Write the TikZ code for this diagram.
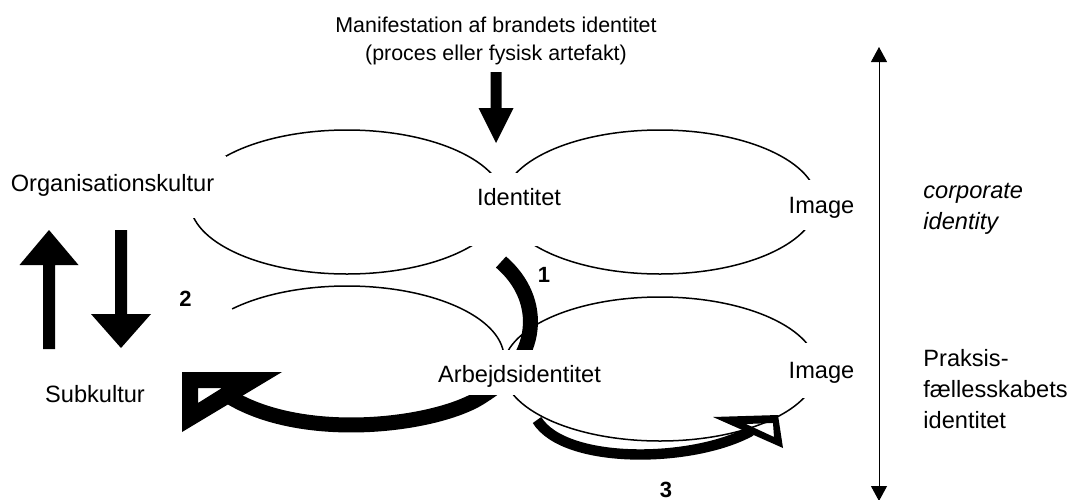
\documentclass[tikz,border=0pt]{standalone}
\usepackage{fontspec}
\setmainfont{Liberation Sans}
\usetikzlibrary{arrows.meta}

\tikzset{
  lbl/.style={fill=white, inner ysep=0pt, anchor=base, font=\fontsize{11.8}{14}\selectfont},
  note/.style={anchor=base west, align=left, inner sep=0pt, font=\fontsize{11.8}{15.3}\selectfont},
  num/.style={anchor=base, inner sep=0pt, font=\fontsize{11}{13}\selectfont\bfseries},
  oval/.style={line width=0.75pt},
  band/.style={line width=7.5pt},
  thinband/.style={line width=5.2pt},
  scalearrow/.style={{Triangle[width=8pt,length=7.5pt]}-{Triangle[width=8pt,length=7.5pt]}, line width=0.5pt}
}

\begin{document}
\begin{tikzpicture}[x=0.5pt,y=-0.5pt]
\useasboundingbox (0,0) rectangle (1072,499);

%Ellipses
\coordinate (e1) at (347,202);
\coordinate (e2) at (660,202);
\coordinate (e3) at (347,358);
\coordinate (e4) at (660,369);
\draw [oval] (e1) ellipse (78.5pt and 36pt);
\draw [oval] (e2) ellipse (78.5pt and 36pt);
\draw [oval] (e3) ++(137:78.5pt and 36pt) arc (137:-112:78.5pt and 36pt);
\draw [oval] (e4) ellipse (78.5pt and 36pt);

%Curved Arrows
\coordinate (b1s) at (501,262);
\coordinate (b1m) at (484,395);
\coordinate (b1e) at (230,397);
\draw [band] (b1s) .. controls (545,300) and (540,360) .. (b1m)
  .. controls (442,425) and (306,443) .. (b1e);
\fill [even odd rule] (182,372) -- (282,372) -- (182,432) -- cycle
  (198,388) -- (222,388) -- (198,403) -- cycle;
\coordinate (b3s) at (537,420);
\coordinate (b3e) at (751,431);
\draw [thinband] (b3s) .. controls (565,465) and (693,463) .. (b3e);
\fill [even odd rule] (713,417) -- (778,415) -- (783,448) -- cycle
  (746,424) -- (773,423) -- (774,437) -- cycle;

%Labels
\node [lbl, inner xsep=6pt, text height=17.5pt, text depth=13.5pt] (org) at (112.5,191) {Organisationskultur};
\node [lbl, inner xsep=4pt, text height=16pt, text depth=20.5pt] (idt) at (519,205) {Identitet};
\node [lbl, inner xsep=2pt, text height=16.5pt, text depth=8.5pt] (img1) at (821.5,213) {Image};
\node [lbl, inner xsep=3pt, text height=16pt, text depth=6.5pt] (arb) at (519.5,382) {Arbejdsidentitet};
\node [lbl, inner xsep=2pt, text height=17.5pt, text depth=10pt] (img2) at (821.5,378) {Image};
\node [lbl, inner xsep=2pt] (sub) at (95,402) {Subkultur};
\node [anchor=base, align=center, inner sep=0pt, font=\fontsize{10.7}{14}\selectfont] (man) at (496,60)
  {Manifestation af brandets identitet\\(proces eller fysisk artefakt)};
\node [note, font=\fontsize{11.8}{15.3}\selectfont\itshape] (corp) at (923,229) {corporate\\identity};
\node [note] (prak) at (923,428) {Praksis-\\fællesskabets\\identitet};
\node [num] (n1) at (544,282) {1};
\node [num] (n2) at (185.5,306) {2};
\node [num] (n3) at (666,497) {3};

%Block Arrows
\fill (490.5,72) -- (501.5,72) -- (501.5,108) -- (513.5,108) -- (496,143) -- (478.5,108) -- (490.5,108) -- cycle;
\fill (43,349) -- (55,349) -- (55,265) -- (78.5,265) -- (49,230) -- (19.5,265) -- (43,265) -- cycle;
\fill (115,230) -- (127,230) -- (127,314) -- (151,314) -- (121,348) -- (91,314) -- (115,314) -- cycle;

%Scale Arrow
\coordinate (vt) at (879,47);
\coordinate (vb) at (879,501);
\draw [scalearrow] (vt) -- (vb);
\end{tikzpicture}
\end{document}
